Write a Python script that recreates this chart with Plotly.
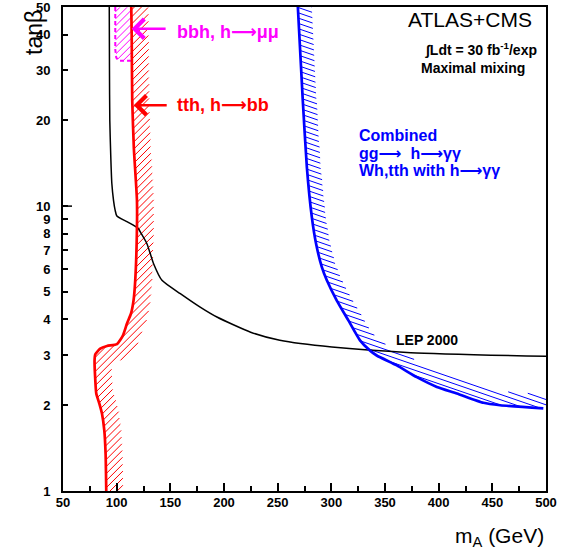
import numpy as np
import plotly.graph_objects as go

# ---------------- data ----------------
lep_mA = [93.1, 93.3, 93.6, 94.5, 95.5, 97.1, 98.5, 100.2, 110.0, 119.8, 123.0, 128.2, 134.4,
          142.2, 159.3, 177.8, 193.4, 224.8, 252.0, 300.5, 374.0, 500.0]
lep_tb = [50, 30, 20, 15, 12, 10.45, 9.7, 9.23, 8.8, 8.37, 8.0, 7.38, 6.28,
          5.49, 4.93, 4.42, 4.08, 3.61, 3.38, 3.20, 3.06, 2.97]

tth_mA = [113.6, 114.0, 114.5, 116.0, 118.9, 118.8, 117.3, 115.7, 113.3, 109.6, 105.9, 100.3,
          91.0, 84.7, 80.1, 79.4, 80.1, 81.0, 83.8, 86.3, 88.5, 89.7, 90.3]
tth_tb = [50, 40, 23.5, 16, 10.5, 8.0, 5.49, 4.66, 4.19, 3.87, 3.52, 3.28,
          3.23, 3.16, 3.02, 2.87, 2.445, 2.20, 2.03, 1.87, 1.63, 1.35, 1.0]

gam_mA = [268.8, 273.4, 277.2, 281.8, 285.8, 291.1, 295.8, 305.1, 315.9, 326.7, 336.1, 342.3,
          361.0, 379.6, 398.3, 417.0, 441.7, 457.2, 497.5]
gam_tb = [50, 23.5, 13.7, 9.17, 7.38, 6.12, 5.49, 4.66, 3.97, 3.38, 3.11, 2.99,
          2.76, 2.51, 2.32, 2.20, 2.04, 2.00, 1.95]

bbh_mA = [98.7, 98.7, 99.6, 101.8, 112.6, 113.8, 113.6]
bbh_tb = [50, 35.5, 33.2, 32.4, 32.4, 33.5, 50]

x_ticks = [50, 100, 150, 200, 250, 300, 350, 400, 450, 500]
y_ticks = [1, 2, 3, 4, 5, 6, 7, 8, 9, 10, 20, 30, 40, 50]
y_ticklabels = [str(v) for v in y_ticks]

# ---------------- geometry helpers ----------------
W, H = 561, 554
ML, MR, MT, MB = 63, 15, 7, 63
PW, PH = W - ML - MR, H - MT - MB
XR = (50.0, 500.0)
YR = (0.0, np.log10(50.0) + 1e-5)


def to_px(x, y):
    x = np.asarray(x, float)
    y = np.asarray(y, float)
    px = ML + (x - XR[0]) / (XR[1] - XR[0]) * PW
    py = MT + PH - (np.log10(y) - YR[0]) / (YR[1] - YR[0]) * PH
    return px, py


def to_data(px, py):
    x = XR[0] + (np.asarray(px) - ML) / PW * (XR[1] - XR[0])
    y = 10 ** (YR[0] + (MT + PH - np.asarray(py)) / PH * (YR[1] - YR[0]))
    return x, y


def densify(px, py, step=1.0):
    seg = np.hypot(np.diff(px), np.diff(py))
    s = np.concatenate([[0], np.cumsum(seg)])
    ss = np.arange(0, s[-1] + step * 0.5, step)
    return np.interp(ss, s, px), np.interp(ss, s, py)


def runs_to_segments(X, Y, inside, xs, ys):
    idx = np.flatnonzero(np.diff(np.concatenate([[0], inside.astype(int), [0]])))
    for a, b in zip(idx[0::2], idx[1::2]):
        if b - a < 3:
            continue
        dx, dy = to_data([X[a], X[b - 1]], [Y[a], Y[b - 1]])
        xs.extend([dx[0], dx[1], None])
        ys.extend([dy[0], dy[1], None])


def hatch(inside_fn, bbox, angle_deg, spacing):
    a = np.deg2rad(angle_deg)
    d = np.array([np.cos(a), np.sin(a)])
    n = np.array([-d[1], d[0]])
    x0, x1, y0, y1 = bbox
    cx = np.array([x0, x1, x0, x1])
    cy = np.array([y0, y0, y1, y1])
    c = cx * n[0] + cy * n[1]
    t = cx * d[0] + cy * d[1]
    cs = np.arange(np.floor(c.min() / spacing) * spacing, c.max() + spacing, spacing)
    ts = np.arange(t.min() - 1, t.max() + 1, 0.5)
    xs, ys = [], []
    for cc in cs:
        X = cc * n[0] + ts * d[0]
        Y = cc * n[1] + ts * d[1]
        keep = (X >= x0) & (X <= x1) & (Y >= y0) & (Y <= y1)
        if not keep.any():
            continue
        X, Y = X[keep], Y[keep]
        runs_to_segments(X, Y, inside_fn(X, Y), xs, ys)
    return xs, ys


def band_inside(x, y, width):
    cx, cy = densify(*to_px(x, y), 1.0)
    tx, ty = np.gradient(cx), np.gradient(cy)
    nx, ny = ty, -tx
    k = 9
    ker = np.ones(k) / k
    nx = np.convolve(np.pad(nx, k // 2, mode="edge"), ker, "valid")
    ny = np.convolve(np.pad(ny, k // 2, mode="edge"), ker, "valid")
    nn = np.hypot(nx, ny)
    nx, ny = nx / nn, ny / nn

    def fn(X, Y):
        dx = X[:, None] - cx[None, :]
        dy = Y[:, None] - cy[None, :]
        d2 = dx * dx + dy * dy
        j = np.argmin(d2, axis=1)
        dmin = np.sqrt(d2[np.arange(len(X)), j])
        side = (X - cx[j]) * nx[j] + (Y - cy[j]) * ny[j]
        return (dmin <= width) & (side >= -0.3)

    bbox = (cx.min() - width - 2, cx.max() + width + 2, cy.min() - width - 2, cy.max() + width + 2)
    return fn, bbox


def poly_inside(x, y):
    px, py = to_px(x, y)
    x2, y2 = np.roll(px, -1), np.roll(py, -1)

    def fn(X, Y):
        Xc, Yc = X[:, None], Y[:, None]
        cond = (py > Yc) != (y2 > Yc)
        xint = px + (Yc - py) * (x2 - px) / (y2 - py + 1e-12)
        return (np.count_nonzero(cond & (Xc < xint), axis=1) % 2) == 1

    bbox = (px.min(), px.max(), py.min(), py.max())
    return fn, bbox


# ---------------- figure ----------------
fig = go.Figure()

RED = "#ff0000"
BLUE = "#0000ff"
MAG = "#ff00ff"

fn, bb = band_inside(tth_mA, tth_tb, 17)
hx, hy = hatch(fn, bb, -45, 5.0)
fig.add_trace(go.Scatter(x=hx, y=hy, mode="lines", line=dict(color=RED, width=1), hoverinfo="skip"))

fn, bb = poly_inside(bbh_mA, bbh_tb)
hx, hy = hatch(fn, bb, -45, 5.0)
fig.add_trace(go.Scatter(x=hx, y=hy, mode="lines", line=dict(color=MAG, width=1), hoverinfo="skip"))
fig.add_trace(go.Scatter(x=bbh_mA[:6], y=bbh_tb[:6], mode="lines",
                         line=dict(color=MAG, width=2, dash="4px,3px"), hoverinfo="skip"))

fn, bb = band_inside(gam_mA, gam_tb, 14)
hx, hy = hatch(fn, bb, 19, 5.0)
fig.add_trace(go.Scatter(x=hx, y=hy, mode="lines", line=dict(color=BLUE, width=1), hoverinfo="skip"))

fig.add_trace(go.Scatter(x=lep_mA, y=lep_tb, mode="lines",
                         line=dict(color="black", width=1.5, shape="spline", smoothing=0.6)))
fig.add_trace(go.Scatter(x=tth_mA, y=tth_tb, mode="lines",
                         line=dict(color=RED, width=2.7, shape="spline", smoothing=0.5)))
fig.add_trace(go.Scatter(x=gam_mA, y=gam_tb, mode="lines",
                         line=dict(color=BLUE, width=2.7, shape="spline", smoothing=0.5)))

FONT = "Liberation Sans, Arial, DejaVu Sans, sans-serif"
ARROW = "⟶"


def pos(px, py):
    return (px - ML) / PW, (MT + PH - py) / PH


def text(s, px, py, size, color="black", xanchor="left", bold=False, angle=0):
    x, y = pos(px, py)
    if bold:
        s = "<b>" + s + "</b>"
    fig.add_annotation(x=x, y=y, xref="paper", yref="paper", text=s, showarrow=False,
                       xanchor=xanchor, yanchor="middle", textangle=angle,
                       font=dict(family=FONT, size=size, color=color))


# arrows (tip -> tail in data units)
fig.add_annotation(x=113.9, y=np.log10(41.9), ax=147.0, ay=np.log10(41.9), xref="x", yref="y",
                   axref="x", ayref="y", text="", showarrow=True, arrowhead=4, arrowsize=1.5,
                   arrowwidth=2.5, arrowcolor=MAG)
fig.add_annotation(x=115.9, y=np.log10(22.6), ax=148.0, ay=np.log10(22.6), xref="x", yref="y",
                   axref="x", ayref="y", text="", showarrow=True, arrowhead=4, arrowsize=1.5,
                   arrowwidth=2.5, arrowcolor=RED)

text("bbh, h" + ARROW + "μμ", 175, 32, 18, MAG, bold=True)
text("tth, h" + ARROW + "bb", 175, 105, 18, RED, bold=True)
text("ATLAS+CMS", 534, 20, 21, xanchor="right")
text("∫Ldt = 30 fb<sup>-1</sup>/exp", 539, 49, 14, xanchor="right", bold=True)
text("Maximal mixing", 527, 68, 14, xanchor="right", bold=True)
text("Combined", 357, 136, 16, BLUE, bold=True)
text("gg" + ARROW + "  h" + ARROW + "γγ", 357, 153, 16, BLUE, bold=True)
text("Wh,tth with h" + ARROW + "γγ", 357, 170, 16, BLUE, bold=True)
text("LEP 2000", 427, 340, 14, xanchor="center", bold=True)
text("tanβ", 19, 33, 23, angle=-90)
text("m<sub>A</sub> (GeV)", 546, 537, 21, xanchor="right")

# longer major tick at tanβ = 10
fig.add_shape(type="line", xref="paper", yref="y", x0=0, x1=9 / PW, y0=10, y1=10,
              line=dict(color="black", width=1.5))

fig.update_layout(
    width=W, height=H,
    margin=dict(l=ML, r=MR, t=MT, b=MB, autoexpand=False),
    paper_bgcolor="white", plot_bgcolor="white",
    showlegend=False,
    xaxis=dict(range=list(XR), tickvals=x_ticks, ticktext=[str(v) for v in x_ticks],
               ticks="inside", ticklen=8, tickwidth=1.5, tickcolor="black", automargin=False,
               minor=dict(dtick=25, tick0=50, ticks="inside", ticklen=5, tickwidth=1.5,
                          tickcolor="black", showgrid=False),
               showgrid=False, zeroline=False, showline=True, linecolor="black", linewidth=2,
               mirror=True, ticklabeloverflow="allow", ticklabelstandoff=-2,
               tickfont=dict(family=FONT, size=13, color="black", weight="bold")),
    yaxis=dict(type="log", range=list(YR), tickvals=y_ticks, ticktext=y_ticklabels,
               ticks="inside", ticklen=5, tickwidth=1.5, tickcolor="black", automargin=False,
               showgrid=False, zeroline=False, showline=True, linecolor="black", linewidth=2,
               mirror=True, ticklabelstandoff=8, ticklabeloverflow="allow",
               tickfont=dict(family=FONT, size=13, color="black", weight="bold")),
)

fig.write_html("out.html", config={"displayModeBar": False},
               post_script="document.body.style.margin='0px';document.body.style.overflow='hidden';")
